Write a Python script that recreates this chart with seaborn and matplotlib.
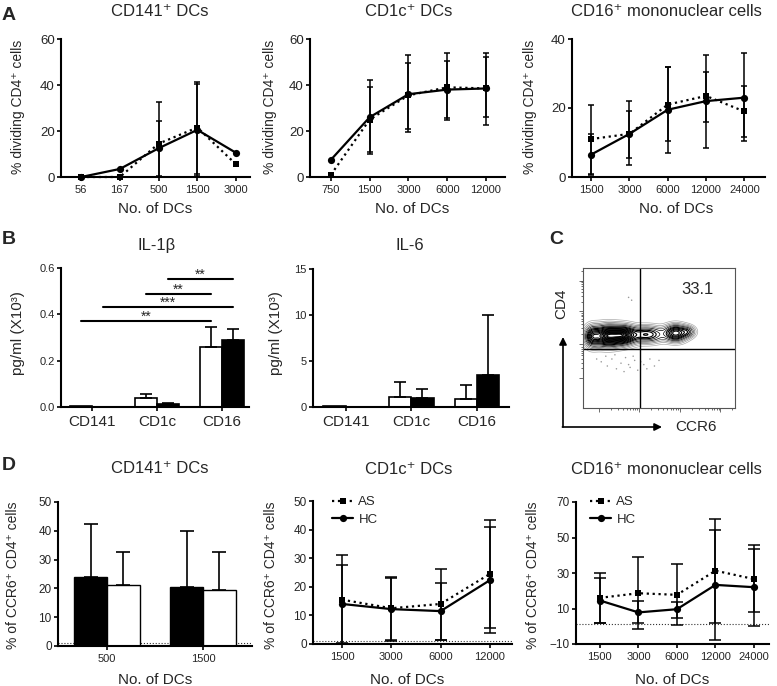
import numpy as np
import pandas as pd
import matplotlib.pyplot as plt
import seaborn as sns
from matplotlib.lines import Line2D

W, H = 777, 686

# ---- A : % dividing CD4+ cells (mean, upper / lower bar ends) ----
a1_cells = ['56', '167', '500', '1500', '3000']
a1_hc = [0, 3.5, 12.5, 20.5, 10.5]
a1_hc_hi = [0, 3.5, 24.5, 40.5, 10.5]
a1_hc_lo = [0, 3.5, 0.5, 0.5, 10.5]
a1_as = [0, 0, 14.5, 21.5, 5.5]
a1_as_hi = [0, 0, 32.5, 41.5, 5.5]
a1_as_lo = [0, 0, 0, 1.5, 5.5]

a2_cells = ['750', '1500', '3000', '6000', '12000']
a2_hc = [7.5, 26, 36, 38, 38.5]
a2_hc_hi = [7.5, 39, 49.5, 50.5, 52]
a2_hc_lo = [7.5, 11, 21, 25.5, 26]
a2_as = [1, 25, 35.5, 39, 38.5]
a2_as_hi = [1, 42, 53, 54, 54]
a2_as_lo = [1, 10, 19.5, 25, 22.5]

a3_cells = ['1500', '3000', '6000', '12000', '24000']
a3_hc = [6.5, 12.5, 19.5, 22, 23]
a3_hc_hi = [12.5, 19, 32, 30.5, 36]
a3_hc_lo = [0.5, 5.5, 7, 16, 10.5]
a3_as = [11, 12.5, 21, 23.5, 19]
a3_as_hi = [21, 22, 32, 35.5, 26.5]
a3_as_lo = [1, 3.5, 10.5, 8.5, 11.5]

# ---- B : cytokines (pg/ml x10^3), mean + upper error ----
b_cells = ['CD141', 'CD1c', 'CD16']
il1b_hc = [0.004, 0.038, 0.26]
il1b_hc_err = [0, 0.017, 0.085]
il1b_as = [0.002, 0.015, 0.29]
il1b_as_err = [0, 0.003, 0.045]
il6_hc = [0.1, 1.1, 0.9]
il6_hc_err = [0, 1.65, 1.45]
il6_as = [0.05, 1.0, 3.5]
il6_as_err = [0, 1.0, 6.5]

sig_from = [('CD1c', 'AS'), ('CD1c', 'HC'), ('CD141', 'AS'), ('CD141', 'HC')]
sig_to = [('CD16', 'AS'), ('CD16', 'HC'), ('CD16', 'AS'), ('CD16', 'HC')]
sig_label = ['**', '**', '***', '**']
sig_level = [0.552, 0.488, 0.432, 0.371]

# ---- C : CD4 vs CCR6 population ----
c_quadrant = '33.1'
pop_cx = [0.06, 0.16, 0.27, 0.42, 0.61, 0.69]
pop_cy = [0.51, 0.515, 0.52, 0.525, 0.535, 0.545]
pop_sx = [0.03, 0.06, 0.05, 0.07, 0.045, 0.03]
pop_sy = [0.045, 0.045, 0.04, 0.035, 0.035, 0.025]
pop_w = [0.5, 1.0, 0.8, 0.55, 0.75, 0.3]
dots_x = [0.12, 0.16, 0.19, 0.22, 0.25, 0.28, 0.31, 0.34, 0.36, 0.40, 0.44,
          0.47, 0.21, 0.27, 0.33, 0.15, 0.38, 0.30, 0.42, 0.50, 0.09, 0.30, 0.32]
dots_y = [0.33, 0.30, 0.35, 0.28, 0.32, 0.36, 0.29, 0.34, 0.27, 0.31, 0.35,
          0.30, 0.38, 0.26, 0.37, 0.37, 0.33, 0.31, 0.28, 0.34, 0.35, 0.79, 0.77]

# ---- D : % of CCR6+ CD4+ cells ----
d1_cells = ['500', '1500']
d1_as = [23.8, 20.5]
d1_as_err = [18.7, 19.3]
d1_hc = [21.2, 19.5]
d1_hc_err = [11.3, 13.0]

d2_cells = ['1500', '3000', '6000', '12000']
d2_as = [15.5, 12.5, 14, 24.5]
d2_as_hi = [31, 23.3, 26.3, 43.5]
d2_as_lo = [0, 1.5, 1.5, 5.5]
d2_hc = [14, 12.2, 11.5, 22.3]
d2_hc_hi = [27.5, 23, 21.5, 41]
d2_hc_lo = [0.5, 1, 1.5, 4]

d3_cells = ['1500', '3000', '6000', '12000', '24000']
d3_as = [16, 18.6, 17.7, 31.3, 26.6]
d3_as_hi = [30.2, 38.8, 35, 60.7, 45.7]
d3_as_lo = [2.1, -1.4, 0.8, 2.1, 7.8]
d3_hc = [14.5, 7.8, 9.6, 23.3, 22.0]
d3_hc_hi = [27.4, 14.3, 13.5, 54.1, 43.8]
d3_hc_lo = [2.1, 1.8, 4.6, -7.6, 0.3]

d_baseline = 1.0


sns.set_style('ticks')
plt.rcParams['font.family'] = ['Liberation Sans', 'DejaVu Sans']

fig = plt.figure(figsize=(W / 100, H / 100), dpi=100)


def px_axes(l, t, r, b):
    return fig.add_axes([l / W, 1 - b / H, (r - l) / W, (b - t) / H])


def ftext(x, y, s, **kw):
    fig.text(x / W, 1 - y / H, s, **kw)


def style(ax, xsize, ysize):
    sns.despine(ax=ax)
    for sp in ['left', 'bottom']:
        ax.spines[sp].set_linewidth(1.5)
        ax.spines[sp].set_color('black')
    ax.tick_params(axis='both', width=1.2, length=3, color='black', pad=1.5)
    ax.tick_params(axis='x', labelsize=xsize, pad=3)
    ax.tick_params(axis='y', labelsize=ysize)
    ax.set_xlabel('')
    ax.set_ylabel('')


def line_panel(ax, cells, series, ylim, yticks, xlim, cap):
    pos = np.arange(len(cells))
    for vals, hi, lo, ls, mk, ms in series:
        v = np.array(vals, dtype=float)
        hi = np.array(hi, dtype=float)
        lo = np.array(lo, dtype=float)
        has = (hi - lo) > 0.01
        ax.errorbar(pos[has], v[has], yerr=[v[has] - lo[has], hi[has] - v[has]],
                    fmt='none', ecolor='black', elinewidth=1.1, capsize=cap,
                    capthick=1.1, zorder=2)
        sns.lineplot(x=pos, y=v, ax=ax, color='black', linestyle=ls, marker=mk,
                     markersize=ms, linewidth=1.6, markeredgewidth=0,
                     zorder=3, clip_on=False)
    ax.set_xticks(pos)
    ax.set_xticklabels(cells)
    ax.set_xlim(*xlim)
    ax.set_ylim(*ylim)
    ax.set_yticks(yticks)


def bar_panel(ax, cells, g1, v1, e1, c1, g2, v2, e2, c2, xlim, cap, lw):
    n = len(cells)
    df = pd.DataFrame({'cell': cells * 2, 'group': [g1] * n + [g2] * n,
                       'value': v1 + v2})
    sns.barplot(data=df, x='cell', y='value', hue='group', hue_order=[g1, g2],
                palette={g1: c1, g2: c2}, edgecolor='black', linewidth=lw,
                width=0.68, errorbar=None, legend=False, ax=ax)
    centers = {}
    keys = [(c, g1) for c in cells] + [(c, g2) for c in cells]
    for p, e, k in zip(ax.patches, e1 + e2, keys):
        xc = p.get_x() + p.get_width() / 2
        centers[k] = xc
        if e > 0:
            ax.errorbar(xc, p.get_height(), yerr=[[0], [e]], fmt='none',
                        ecolor='black', elinewidth=1.2, capsize=cap, capthick=1.2,
                        zorder=1)
    ax.set_xlim(*xlim)
    return centers


as_style = (':', 's', 4.5)
hc_style = ('-', 'o', 5.2)

# ================= A =================
axA1 = px_axes(61, 39, 250, 177)
line_panel(axA1, a1_cells,
           [(a1_as, a1_as_hi, a1_as_lo) + as_style, (a1_hc, a1_hc_hi, a1_hc_lo) + hc_style],
           (0, 60), [0, 20, 40, 60], (-0.52, 4.36), 2.5)
style(axA1, 8, 9.5)

axA2 = px_axes(310, 39, 505, 177)
line_panel(axA2, a2_cells,
           [(a2_as, a2_as_hi, a2_as_lo) + as_style, (a2_hc, a2_hc_hi, a2_hc_lo) + hc_style],
           (0, 60), [0, 20, 40, 60], (-0.54, 4.49), 2.5)
style(axA2, 8, 9.5)

axA3 = px_axes(572, 39, 765, 177)
line_panel(axA3, a3_cells,
           [(a3_as, a3_as_hi, a3_as_lo) + as_style, (a3_hc, a3_hc_hi, a3_hc_lo) + hc_style],
           (0, 40), [0, 20, 40], (-0.5, 4.54), 2.5)
style(axA3, 8, 9.5)

ftext(160, 16, 'CD141⁺ DCs', ha='center', va='baseline', fontsize=12)
ftext(409, 16, 'CD1c⁺ DCs', ha='center', va='baseline', fontsize=12)
ftext(666, 16, 'CD16⁺ mononuclear cells', ha='center', va='baseline', fontsize=12)
for x in [155, 412, 676]:
    ftext(x, 213, 'No. of DCs', ha='center', va='baseline', fontsize=11)
for x in [18, 270, 530]:
    ftext(x, 107, '% dividing CD4⁺ cells', ha='center', va='center',
          rotation=90, fontsize=10)

# ================= B =================
axB1 = px_axes(61, 268, 249, 407)
cent = bar_panel(axB1, b_cells, 'HC', il1b_hc, il1b_hc_err, 'white',
                 'AS', il1b_as, il1b_as_err, 'black', (-0.48, 2.42), 4, 1.2)
axB1.set_ylim(0, 0.6)
axB1.set_yticks([0, 0.2, 0.4, 0.6])
axB1.set_yticklabels(['0.0', '0.2', '0.4', '0.6'])
style(axB1, 11, 8)
for a, b, lab, lev in zip(sig_from, sig_to, sig_label, sig_level):
    x1, x2 = cent[a], cent[b]
    axB1.plot([x1, x2], [lev, lev], color='black', lw=1.5, clip_on=False)
    axB1.text((x1 + x2) / 2, lev + 0.002, lab, ha='center', va='baseline',
              fontsize=10)

axB2 = px_axes(313, 269, 509, 407)
bar_panel(axB2, b_cells, 'HC', il6_hc, il6_hc_err, 'white',
          'AS', il6_as, il6_as_err, 'black', (-0.5, 2.49), 4, 1.2)
axB2.set_ylim(0, 15)
axB2.set_yticks([0, 5, 10, 15])
style(axB2, 11, 8)

ftext(157, 250, 'IL-1β', ha='center', va='baseline', fontsize=12)
ftext(410, 250, 'IL-6', ha='center', va='baseline', fontsize=12)
ftext(18, 333, 'pg/ml (X10³)', ha='center', va='center', rotation=90, fontsize=11)
ftext(276, 333, 'pg/ml (X10³)', ha='center', va='center', rotation=90, fontsize=11)

# ================= C =================
axC = px_axes(583, 268, 735, 408)
gx, gy = np.meshgrid(np.linspace(0, 1, 400), np.linspace(0, 1, 400))
dens = np.zeros_like(gx)
for cx, cy, sx, sy, w in zip(pop_cx, pop_cy, pop_sx, pop_sy, pop_w):
    dens += w * np.exp(-0.5 * ((gx - cx) / sx) ** 2 - 0.5 * ((gy - cy) / sy) ** 2)
lev = dens.max() * np.array([0.03, 0.06, 0.1, 0.15, 0.21, 0.28, 0.35, 0.42,
                             0.5, 0.57, 0.64, 0.7, 0.76, 0.81, 0.86, 0.9,
                             0.94, 0.97])
cols = ['#aaaaaa', '#999999', '#777777', '#555555'] + ['black'] * 14
axC.contour(gx, gy, dens, levels=lev, colors=cols,
            linewidths=[0.5] * 6 + [0.8] * 12)
sns.scatterplot(x=dots_x, y=dots_y, ax=axC, s=1.2, color='#999999',
                edgecolor='none')
axC.axvline(0.375, color='black', lw=1.0)
axC.axhline(0.42, color='black', lw=1.0)
axC.set_xlim(0, 1)
axC.set_ylim(0, 1)
for sp in axC.spines.values():
    sp.set_linewidth(0.8)
    sp.set_color('#555555')


def log_ticks(starts, width):
    major, minor = [], []
    for m in starts:
        major.append(m)
        minor += [m + width * np.log10(k) for k in range(2, 10)]
    return major, [t for t in minor if 0 < t < 1]


xmaj, xmin = log_ticks([0.105, 0.37, 0.64, 0.90], 0.265)
ymaj, ymin = log_ticks([0.215, 0.46, 0.69, 0.91], 0.23)
axC.set_xticks(xmaj)
axC.set_xticks(xmin, minor=True)
axC.set_yticks(ymaj)
axC.set_yticks(ymin, minor=True)
axC.tick_params(which='both', labelbottom=False, labelleft=False,
                direction='out', color='#555555', width=0.6)
axC.tick_params(which='major', length=3)
axC.tick_params(which='minor', length=1.5)
axC.text(0.86, 0.9, c_quadrant, transform=axC.transAxes, ha='right', va='top',
         fontsize=12)

axC.annotate('', xy=(563, H - 337), xytext=(563, H - 427), xycoords='figure pixels',
             textcoords='figure pixels', annotation_clip=False,
             arrowprops=dict(arrowstyle='-|>', color='black', lw=1.2,
                             mutation_scale=11, shrinkA=0, shrinkB=0))
axC.annotate('', xy=(662, H - 427), xytext=(562.4, H - 427), xycoords='figure pixels',
             textcoords='figure pixels', annotation_clip=False,
             arrowprops=dict(arrowstyle='-|>', color='black', lw=1.2,
                             mutation_scale=11, shrinkA=0, shrinkB=0))
ftext(561, 304, 'CD4', ha='center', va='center', rotation=90, fontsize=11)
ftext(696, 427, 'CCR6', ha='center', va='center', fontsize=11)

# ================= D =================
axD1 = px_axes(58, 502, 252, 646)
bar_panel(axD1, d1_cells, 'AS', d1_as, d1_as_err, 'black',
          'HC', d1_hc, d1_hc_err, 'white', (-0.51, 1.51), 4.7, 1.0)
axD1.set_ylim(0, 50)
axD1.set_yticks([0, 10, 20, 30, 40, 50])
axD1.axhline(d_baseline, color='#333333', lw=0.8, ls=':', zorder=0.5)
style(axD1, 8, 8.5)

axD2 = px_axes(313, 501, 512, 644)
line_panel(axD2, d2_cells,
           [(d2_as, d2_as_hi, d2_as_lo) + as_style, (d2_hc, d2_hc_hi, d2_hc_lo) + hc_style],
           (0, 50), [0, 10, 20, 30, 40, 50], (-0.59, 3.45), 4)
axD2.axhline(d_baseline, color='#333333', lw=0.8, ls=':', zorder=0.5)
style(axD2, 8, 8.5)

axD3 = px_axes(576, 502, 769, 644)
line_panel(axD3, d3_cells,
           [(d3_as, d3_as_hi, d3_as_lo) + as_style, (d3_hc, d3_hc_hi, d3_hc_lo) + hc_style],
           (-10, 70), [-10, 10, 30, 50, 70], (-0.62, 4.39), 4)
axD3.axhline(d_baseline, color='#333333', lw=0.8, ls=':', zorder=0.5)
style(axD3, 8, 8.5)

leg_handles = [Line2D([], [], color='black', ls=':', marker='s', ms=4.5, mew=0, lw=1.6),
               Line2D([], [], color='black', ls='-', marker='o', ms=5.2, mew=0, lw=1.6)]
for ax, lx in [(axD2, 332), (axD3, 590)]:
    ax.legend(leg_handles, ['AS', 'HC'], loc='upper left',
              bbox_to_anchor=(lx / W, 1 - 496 / H), bbox_transform=fig.transFigure,
              frameon=False, fontsize=9.5, handlelength=1.6, handletextpad=0.4,
              labelspacing=0.4, borderpad=0, borderaxespad=0)

ftext(160, 473, 'CD141⁺ DCs', ha='center', va='baseline', fontsize=12)
ftext(409, 474, 'CD1c⁺ DCs', ha='center', va='baseline', fontsize=12)
ftext(666, 474, 'CD16⁺ mononuclear cells', ha='center', va='baseline', fontsize=12)
for x in [155, 407, 672]:
    ftext(x, 684, 'No. of DCs', ha='center', va='baseline', fontsize=11)
for x in [13, 271, 533]:
    ftext(x, 575, '% of CCR6⁺ CD4⁺ cells', ha='center', va='center',
          rotation=90, fontsize=10)

# panel letters
for lab, x, y in [('A', 9, 15), ('B', 9, 240), ('C', 556, 240), ('D', 9, 465)]:
    ftext(x, y, lab, ha='center', va='center', fontsize=14, fontweight='bold')

fig.savefig('out.png', dpi=100, facecolor='white')
